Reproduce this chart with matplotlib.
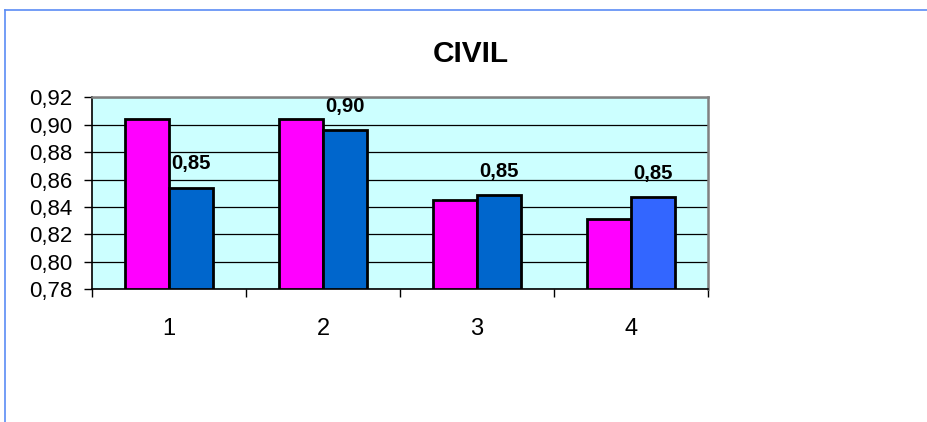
import matplotlib
matplotlib.use("Agg")
import matplotlib.pyplot as plt
from matplotlib.lines import Line2D
import numpy as np

plt.rcParams['font.family'] = ['Liberation Sans', 'DejaVu Sans']

categories = ["1", "2", "3", "4"]
series_a = [0.904, 0.904, 0.845, 0.831]
series_b = [0.854, 0.896, 0.8485, 0.847]
labels_b = ["0,85", "0,90", "0,85", "0,85"]
yticks = [0.78, 0.80, 0.82, 0.84, 0.86, 0.88, 0.90, 0.92]
ytick_labels = ["0,78", "0,80", "0,82", "0,84", "0,86", "0,88", "0,90", "0,92"]

color_a = "#FF00FF"
colors_b = ["#0066CC", "#0066CC", "#0066CC", "#3366FF"]

fig = plt.figure(figsize=(9.28, 4.22), dpi=100)
fig.patch.set_facecolor("white")

# outer frame (blue) top and left
fig.add_artist(Line2D([5/928, 1.0], [1-10/422, 1-10/422], color="#5B8CF5", lw=1.2, transform=fig.transFigure))
fig.add_artist(Line2D([5/928, 5/928], [0.0, 1-10/422], color="#5B8CF5", lw=1.2, transform=fig.transFigure))

ax = fig.add_axes([92/928, 1-289.3/422, (708-92)/928, (289.3-97.3)/422])
ax.set_facecolor("#CCFFFF")

x = np.arange(len(categories))
w = 0.283
ax.bar(x - w/2, [v - 0.78 for v in series_a], bottom=0.78, width=w, color=color_a, edgecolor="black", linewidth=2, zorder=3)
ax.bar(x + w/2, [v - 0.78 for v in series_b], bottom=0.78, width=w, color=colors_b, edgecolor="black", linewidth=2, zorder=3)

for xi, v, lab in zip(x, series_b, labels_b):
    ax.annotate(lab, (xi + w/2, v), xytext=(0, 13.2), textcoords="offset points",
                ha="center", va="baseline", fontsize=14.7, fontweight="bold", zorder=4)

ax.set_xlim(-0.5, 3.5)
ax.set_ylim(0.78, 0.92)
ax.set_yticks(yticks)
ax.set_yticklabels(ytick_labels, fontsize=16)
ax.yaxis.grid(True, color="black", linewidth=0.9, zorder=1)
ax.set_axisbelow(True)

ax.set_xticks(x)
ax.set_xticklabels(categories, fontsize=17)
ax.tick_params(axis="x", length=0, pad=20.5)
ax.set_xticks([-0.5, 0.5, 1.5, 2.5, 3.5], minor=True)
ax.tick_params(axis="x", which="minor", length=6, width=1, direction="out", color="black")
ax.tick_params(axis="y", length=6, width=1, direction="out", pad=8, color="black")

for side in ["top", "right"]:
    ax.spines[side].set_color("#808080")
    ax.spines[side].set_linewidth(1.8)
for side in ["left", "bottom"]:
    ax.spines[side].set_color("black")
    ax.spines[side].set_linewidth(1.2)

fig.text(471/928, 1-54/422, "CIVIL", ha="center", va="center", fontsize=21.5, fontweight="bold")

fig.savefig("out.png", dpi=100)
